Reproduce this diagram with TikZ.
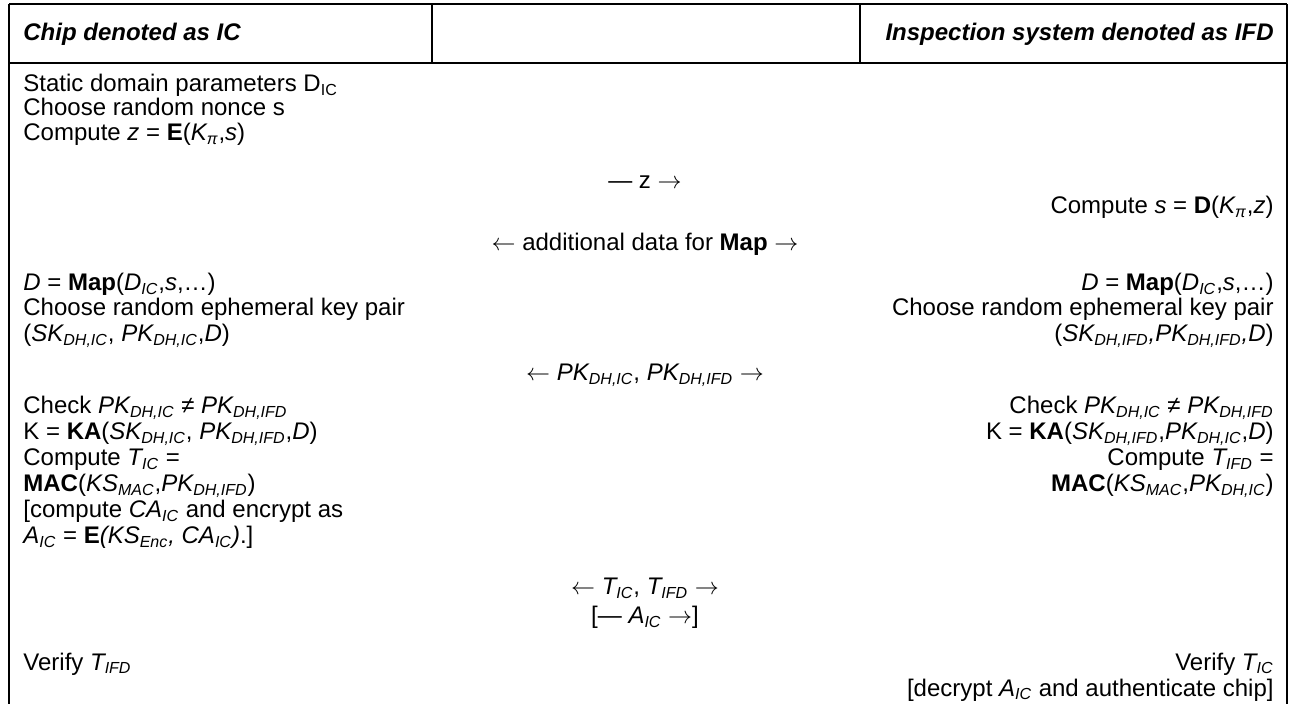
\documentclass[tikz,border=0pt]{standalone}
\usepackage{fontspec}
\setmainfont{Liberation Sans}
\usepackage{tikz}
\newcommand{\lo}[1]{\textsubscript{#1}}
\newcommand{\larr}{$\leftarrow$}
\newcommand{\rarr}{$\rightarrow$}
\begin{document}
\begin{tikzpicture}[x=0.5pt, y=-0.5pt,
  every node/.style={inner sep=0pt, font=\fontsize{12}{14}\selectfont},
  lcol/.style={anchor=base west},
  rcol/.style={anchor=base east},
  mcol/.style={anchor=base},
  head/.style={font=\fontsize{12}{14}\selectfont\bfseries\itshape}]

\useasboundingbox (0, 0) rectangle (1289, 704);

\draw[black, line width=1.2pt] (9, 4) -- (1287, 4);
\draw[black, line width=1.2pt] (9, 63) -- (1287, 63);
\draw[black, line width=1.2pt] (9, 4) -- (9, 704);
\draw[black, line width=1.2pt] (1287, 4) -- (1287, 704);
\draw[black, line width=0.8pt] (432, 4) -- (432, 63);
\draw[black, line width=0.8pt] (860, 4) -- (860, 63);

\draw (23, 41) node (hdIC) [lcol, head] {Chip denoted as IC};
\draw (1274, 41) node (hdIFD) [rcol, head] {Inspection system denoted as IFD};

\draw (23, 92) node (icA) [lcol] {Static domain parameters D\lo{IC}};
\draw (23, 116) node (icB) [lcol] {Choose random nonce s};
\draw (23, 141) node (icC) [lcol] {Compute \textit{z} = \textbf{E}(\textit{K\lo{π}},\textit{s})};
\draw (645, 189) node (msgZ) [mcol] {— z \rarr};
\draw (1274, 214) node (ifdA) [rcol] {Compute \textit{s} = \textbf{D}(\textit{K\lo{π}},\textit{z})};
\draw (645, 251) node (msgMap) [mcol] {\larr{} additional data for \textbf{Map} \rarr};

\draw (23, 291) node (icD) [lcol] {\textit{D} = \textbf{Map}(\textit{D\lo{IC}},\textit{s},\ldots)};
\draw (1274, 291) node (ifdB) [rcol] {\textit{D} = \textbf{Map}(\textit{D\lo{IC}},\textit{s},\ldots)};
\draw (23, 316) node (icE) [lcol] {Choose random ephemeral key pair};
\draw (1274, 316) node (ifdC) [rcol] {Choose random ephemeral key pair};
\draw (23, 342) node (icF) [lcol] {(\textit{SK\lo{DH,IC}}, \textit{PK\lo{DH,IC}},\textit{D})};
\draw (1274, 342) node (ifdD) [rcol] {(\textit{SK\lo{DH,IFD},PK\lo{DH,IFD},D})};
\draw (645, 381) node (msgPK) [mcol] {\larr{} \textit{PK\lo{DH,IC}}, \textit{PK\lo{DH,IFD}} \rarr};

\draw (23, 414) node (icG) [lcol] {Check \textit{PK\lo{DH,IC}} ≠ \textit{PK\lo{DH,IFD}}};
\draw (1274, 414) node (ifdE) [rcol] {Check \textit{PK\lo{DH,IC}} ≠ \textit{PK\lo{DH,IFD}}};
\draw (23, 440) node (icH) [lcol] {K = \textbf{KA}(\textit{SK\lo{DH,IC}}, \textit{PK\lo{DH,IFD}},\textit{D})};
\draw (1274, 440) node (ifdF) [rcol] {K = \textbf{KA}(\textit{SK\lo{DH,IFD}},\textit{PK\lo{DH,IC}},\textit{D})};
\draw (23, 466) node (icI) [lcol] {Compute \textit{T\lo{IC}} =};
\draw (1274, 466) node (ifdG) [rcol] {Compute \textit{T\lo{IFD}} =};
\draw (23, 492) node (icJ) [lcol] {\textbf{MAC}(\textit{KS\lo{MAC}},\textit{PK\lo{DH,IFD}})};
\draw (1274, 492) node (ifdH) [rcol] {\textbf{MAC}(\textit{KS\lo{MAC}},\textit{PK\lo{DH,IC}})};
\draw (23, 518) node (icK) [lcol] {[compute \textit{CA\lo{IC}} and encrypt as};
\draw (23, 544) node (icL) [lcol] {\textit{A\lo{IC}} = \textbf{E}\textit{(KS\lo{Enc}, CA\lo{IC})}.]};

\draw (645, 595) node (msgT) [mcol] {\larr{} \textit{T\lo{IC}}, \textit{T\lo{IFD}} \rarr};
\draw (645, 624) node (msgA) [mcol] {[— \textit{A\lo{IC}} \rarr]};

\draw (23, 670) node (icM) [lcol] {Verify \textit{T\lo{IFD}}};
\draw (1274, 670) node (ifdI) [rcol] {Verify \textit{T\lo{IC}}};
\draw (1274, 696) node (ifdJ) [rcol] {[decrypt \textit{A\lo{IC}} and authenticate chip]};
\end{tikzpicture}
\end{document}
